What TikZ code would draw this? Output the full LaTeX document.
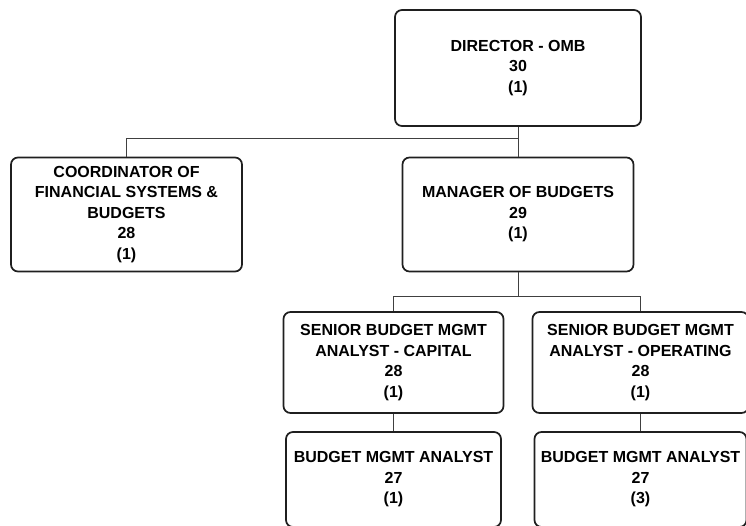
\documentclass[tikz,border=0pt]{standalone}
\usepackage{fontspec}
\setmainfont{Liberation Sans}
\begin{document}
\begin{tikzpicture}[x=1pt,y=-1pt,
  post/.style={draw=black!88,line width=1.7pt,rounded corners=7pt,fill=white,
    minimum width=#1,inner sep=0pt},
  label/.style={align=center,font=\fontsize{16}{20.5}\selectfont\bfseries,text=black,inner sep=0pt},
  link/.style={draw=black!75,line width=0.9pt}]
\useasboundingbox (0,0) rectangle (746,525);
\clip (0,0) rectangle (746,525);

% boxes
\node[post=246pt,minimum height=116pt] (dir) at (518,68) {};
\node[post=231pt,minimum height=114pt] (coord) at (126.5,214.5) {};
\node[post=231pt,minimum height=114pt] (mgr) at (518,214.5) {};
\node[post=220pt,minimum height=101pt] (cap) at (393.5,362.5) {};
\node[post=216pt,minimum height=101pt] (ops) at (640.5,362.5) {};
\node[post=215pt,minimum height=95pt] (bma1) at (393.5,479.5) {};
\node[post=212pt,minimum height=95pt] (bma2) at (640.5,479.5) {};

% reporting lines
\coordinate (topbar) at (518,138);
\coordinate (midbar) at (518,296);
\draw[link] (dir.south) -- (topbar) -| (coord.north);
\draw[link] (topbar) -- (mgr.north);
\draw[link] (mgr.south) -- (midbar) -| (cap.north);
\draw[link] (midbar) -| (ops.north);
\draw[link] (cap.south) -- (bma1.north);
\draw[link] (ops.south) -- (bma2.north);

% titles, grades and head counts
\node[label] (tdir) at (dir) {DIRECTOR - OMB\\30\\(1)};
\node[label] (tcoord) at (coord) {COORDINATOR OF\\FINANCIAL SYSTEMS \&\\BUDGETS\\28\\(1)};
\node[label] (tmgr) at (mgr) {MANAGER OF BUDGETS\\29\\(1)};
\node[label] (tcap) at (cap) {SENIOR BUDGET MGMT\\ANALYST - CAPITAL\\28\\(1)};
\node[label] (tops) at (ops) {SENIOR BUDGET MGMT\\ANALYST - OPERATING\\28\\(1)};
\node[label] (tbma1) at (bma1) {BUDGET MGMT ANALYST\\27\\(1)};
\node[label] (tbma2) at (bma2) {BUDGET MGMT ANALYST\\27\\(3)};
\end{tikzpicture}
\end{document}
